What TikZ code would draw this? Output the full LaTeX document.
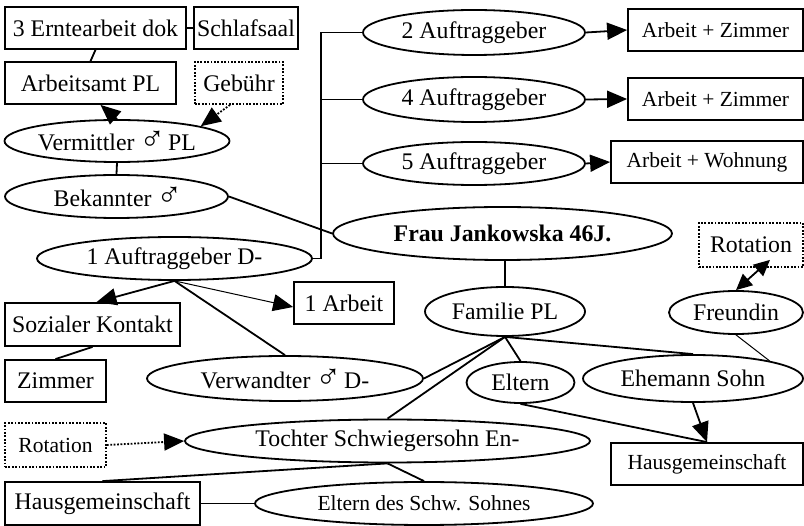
\documentclass[tikz,border=0pt]{standalone}
\usepackage{fontspec}
\usepackage{graphicx}
\setmainfont{Liberation Serif}
\usetikzlibrary{shapes.geometric,arrows.meta}
\newcommand{\mars}{\kern-1pt\scalebox{1.45}{♂}\kern-3pt}

\begin{document}
\begin{tikzpicture}[x=1pt,y=-1pt,
  every node/.style={font=\fontsize{23.8}{28}\selectfont},
  klein/.style={font=\fontsize{21.5}{25}\selectfont},
  kasten/.style={draw,rectangle,line width=1.8pt,inner sep=0pt,minimum height=42pt},
  punktkasten/.style={kasten,dash pattern=on 1.8pt off 1.6pt},
  oval/.style={draw,ellipse,line width=1.8pt,inner sep=0pt},
  linie/.style={line width=1.8pt},
  duenn/.style={line width=1pt},
  pfeil/.style={-{Triangle[length=20pt,width=17pt]}},
  punktiert/.style={dash pattern=on 1.8pt off 1.6pt}]
\useasboundingbox (0,0) rectangle (804,526);

\node[kasten,minimum width=181pt] (ernte) at (95.5,28) {3 Erntearbeit dok};
\node[kasten,minimum width=104pt] (schlaf) at (246,28) {Schlafsaal};
\node[kasten,minimum width=171pt] (amt) at (90.5,83) {Arbeitsamt PL};
\node[punktkasten,minimum width=88pt] (gebuehr) at (239,83) {Gebühr};
\node[oval,minimum width=225pt,minimum height=42pt] (vermittler) at (117,141) {Vermittler \mars\ PL};
\node[oval,minimum width=223pt,minimum height=43pt] (bekannter) at (116.5,196.5) {Bekannter \mars};
\node[oval,minimum width=339pt,minimum height=53pt] (frau) at (502.5,233.5) {\bfseries Frau Jankowska 46J.};
\node[oval,minimum width=275pt,minimum height=43pt] (auf1) at (174.5,258.5) {1 Auftraggeber D-};

\node[oval,minimum width=222pt,minimum height=45pt] (auf2) at (474,32.5) {2 Auftraggeber};
\node[oval,minimum width=222pt,minimum height=45pt] (auf4) at (474,99.5) {4 Auftraggeber};
\node[oval,minimum width=222pt,minimum height=43pt] (auf5) at (474,163.5) {5 Auftraggeber};
\node[kasten,klein,minimum width=175pt] (zimmer2) at (715.5,30) {Arbeit + Zimmer};
\node[kasten,klein,minimum width=175pt] (zimmer4) at (715.5,99) {Arbeit + Zimmer};
\node[kasten,klein,minimum width=192pt] (wohnung5) at (707,162) {Arbeit + Wohnung};

\node[kasten,minimum width=175pt,minimum height=43pt] (sozial) at (92.5,324.5) {Sozialer Kontakt};
\node[kasten,minimum width=100pt] (arbeit1) at (344,303) {1 Arbeit};
\node[kasten,minimum width=101pt] (zimmer) at (55.5,381) {Zimmer};
\node[oval,minimum width=276pt,minimum height=45pt] (verwandter) at (285,378.5) {Verwandter \mars\ D-};

\node[oval,minimum width=160pt,minimum height=49pt] (familie) at (505,311.5) {Familie PL};
\node[oval,minimum width=108pt,minimum height=41pt] (eltern) at (520.5,382.5) {Eltern};
\node[oval,minimum width=220pt,minimum height=47pt] (ehemann) at (693,378.5) {Ehemann Sohn};
\node[oval,minimum width=134pt,minimum height=43pt] (freundin) at (736,312.5) {Freundin};
\node[punktkasten,minimum width=104pt,minimum height=44pt] (rotoben) at (751,245) {Rotation};
\node[kasten,klein,minimum width=192pt] (hausrechts) at (707,464) {Hausgemeinschaft};

\node[punktkasten,klein,minimum width=101pt,minimum height=44pt] (rotunten) at (55.5,445) {Rotation};
\node[oval,minimum width=405pt,minimum height=43pt] (tochter) at (387.5,441) {Tochter Schwiegersohn En-};
\node[kasten,minimum width=195pt,minimum height=43pt] (hauslinks) at (102.5,503.5) {Hausgemeinschaft};
\node[oval,klein,minimum width=338pt,minimum height=43pt] (elternschw) at (424,503.5) {Eltern des Schw. Sohnes};

\coordinate (knick) at (321,258.5);

\draw[linie] (ernte.east) -- (schlaf.west);
\draw[linie] (ernte.south) -- (amt.north);
\draw[linie,pfeil] (vermittler.north) -- ([xshift=10pt]amt.south);
\draw[linie,pfeil,punktiert] ([xshift=-9pt]gebuehr.south) -- (vermittler.10);
\draw[linie] (vermittler.south) -- (bekannter.north);
\draw[linie] (bekannter.east) -- (frau.west);
\draw[linie] (auf1.east) -- (knick) |- (auf2.west);
\draw[linie] (knick |- auf4.west) -- (auf4.west);
\draw[linie] (knick |- auf5.west) -- (auf5.west);
\draw[linie,pfeil] (auf2.east) -- (zimmer2.west);
\draw[linie,pfeil] (auf4.east) -- (zimmer4.west);
\draw[linie,pfeil] (auf5.east) -- (wohnung5.west);
\draw[linie,pfeil] (auf1.south) -- ([xshift=4pt]sozial.north);
\draw[duenn,pfeil] (auf1.south) -- ([yshift=-4pt]arbeit1.west);
\draw[linie] (auf1.south) -- (verwandter.north);
\draw[linie] (sozial.south) -- (zimmer.north);
\draw[linie] (familie.north |- frau.south) -- (familie.north);
\draw[linie] (familie.south) -- (verwandter.east);
\draw[linie] (familie.south) -- (tochter.north);
\draw[linie] (familie.south) -- (eltern.north);
\draw[linie] (familie.south) -- (ehemann.north);
\draw[duenn] (freundin.south) -- (ehemann.13);
\draw[linie,{Triangle[length=16pt,width=15pt]}-{Triangle[length=16pt,width=15pt]}] (freundin.north) -- ([xshift=19pt,yshift=8pt]rotoben.south);
\draw[linie,pfeil] (ehemann.south) -- (hausrechts.north);
\draw[linie] (eltern.south) -- (hausrechts.north);
\draw[linie,pfeil,punktiert] (rotunten.east) -- (tochter.west);
\draw[linie] (hauslinks.north) -- (tochter.south);
\draw[linie] (tochter.south) -- (elternschw.north);
\draw[linie] (hauslinks.east) -- (elternschw.west);
\end{tikzpicture}
\end{document}
